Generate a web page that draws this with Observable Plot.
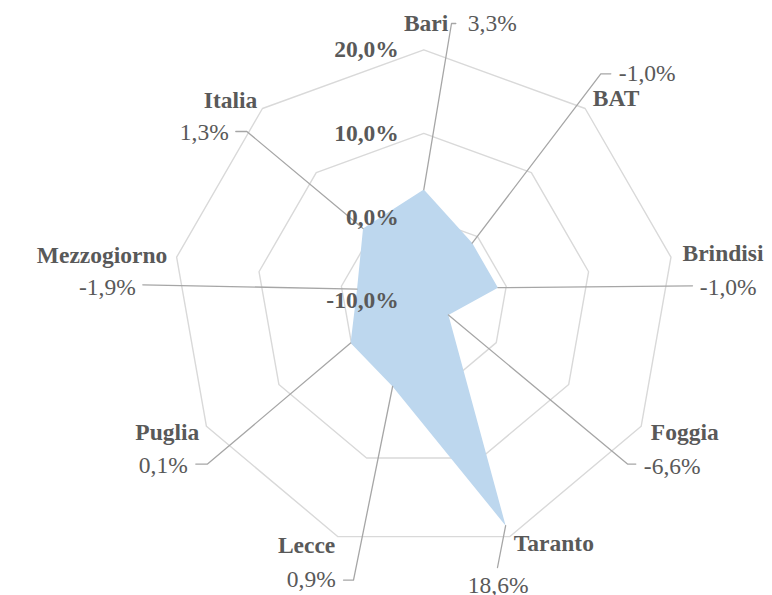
<!DOCTYPE html>
<html><head><meta charset="utf-8">
<script src="https://cdn.jsdelivr.net/npm/d3@7"></script>
<script src="https://cdn.jsdelivr.net/npm/@observablehq/plot@0.6"></script>
<style>
html,body{margin:0;padding:0;background:#fff;}
svg text{font-family:"Liberation Serif", serif !important;}
g[aria-label="names"] text{letter-spacing:2.2px}
</style></head><body><div id="chart"></div>
<script>
// ---- data ----
const categories = ["Bari","BAT","Brindisi","Foggia","Taranto","Lecce","Puglia","Mezzogiorno","Italia"];
const values = [3.3, -1.0, -1.0, -6.6, 18.6, 0.9, 0.1, -1.9, 1.3];
const ringTicks = [-10, 0, 10, 20];
const ringTickLabels = ["-10,0%", "0,0%", "10,0%", "20,0%"];
const valueLabels = ["3,3%", "-1,0%", "-1,0%", "-6,6%", "18,6%", "0,9%", "0,1%", "-1,9%", "1,3%"];

// ---- layout (label placement, px offsets from the chart centre) ----
const labelLayout = [
  {leader: [[27.7,-277.3],[32,-277.3]], name: [24.5,-277,"end"], value: [44,-277,"start"]},
  {leader: [[177,-227],[187,-227]], name: [169,-202,"start"], value: [195,-227,"start"]},
  {leader: [[268.7,-15]], name: [258.7,-47,"start"], value: [276,-13.3,"start"]},
  {leader: [[203.7,163.3],[212,163.3]], name: [227,131.7,"start"], value: [220,166,"start"]},
  {leader: [[73.7,266.7]], name: [90,243,"start"], value: [44,285,"start"]},
  {leader: [[-70.3,279.3],[-80.3,279.3]], name: [-88.5,245,"end"], value: [-88,279,"end"]},
  {leader: [[-216.3,163.3],[-228,163.3]], name: [-224.5,131.7,"end"], value: [-236,165,"end"]},
  {leader: [[-281,-16]], name: [-256.5,-45,"end"], value: [-288,-13.3,"end"]},
  {leader: [[-177,-169.3],[-188,-169.3]], name: [-166.5,-200,"end"], value: [-195,-168.3,"end"]}
];

const W = 772, H = 595, CX = 423.3, CY = 300.3, R = 251;
const r = d3.scaleLinear().domain([ringTicks[0], ringTicks[ringTicks.length-1]]).range([0, R]);
const n = categories.length;
const ang = i => i * 2 * Math.PI / n;
const pt = (i, v) => ({x: r(v) * Math.sin(ang(i)), y: -r(v) * Math.cos(ang(i))});

const rings = [];
ringTicks.slice(1).forEach(t => categories.forEach((c, i) => rings.push({ring: t, ...pt(i, t)})));
const area = categories.map((c, i) => ({cat: c, ...pt(i, values[i])}));
const leaders = [];
categories.forEach((c, i) => {
  leaders.push({cat: c, ...pt(i, values[i])});
  labelLayout[i].leader.forEach(([x, y]) => leaders.push({cat: c, x, y}));
});
const names = categories.map((c, i) => ({t: c, x: labelLayout[i].name[0], y: labelLayout[i].name[1], a: labelLayout[i].name[2]}));
const vals = valueLabels.map((t, i) => ({t, x: labelLayout[i].value[0], y: labelLayout[i].value[1], a: labelLayout[i].value[2]}));
const ticks = ringTicks.map((t, i) => ({t: ringTickLabels[i], y: -r(t)}));

const font = "Liberation Serif";
const txt = "#595959";
const fs = 23.5;

const chart = Plot.plot({
  width: W, height: H, margin: 0,
  style: {fontFamily: font, background: "#fff"},
  x: {domain: [-CX, W - CX], range: [0, W], axis: null},
  y: {domain: [-CY, H - CY], range: [0, H], axis: null},
  marks: [
    Plot.line(rings, {x: "x", y: "y", z: "ring", curve: "linear-closed", stroke: "#d9d9d9", strokeWidth: 1.4}),
    Plot.line(area, {x: "x", y: "y", curve: "linear-closed", fill: "#bdd7ee", stroke: "none"}),
    Plot.line(leaders, {x: "x", y: "y", z: "cat", stroke: "#a6a6a6", strokeWidth: 1.3}),
    Plot.text(ticks, {x: () => 0, y: "y", text: "t", dx: -25, textAnchor: "end", fontSize: fs, fontWeight: "bold", fontFamily: font, fill: txt, ariaLabel: "ticks"}),
    ...["start", "end"].map(a => Plot.text(names.filter(d => d.a === a), {x: "x", y: "y", text: "t", textAnchor: a, fontSize: fs, fontWeight: "bold", fontFamily: font, fill: txt, ariaLabel: "names"})),
    ...["start", "end"].map(a => Plot.text(vals.filter(d => d.a === a), {x: "x", y: "y", text: "t", textAnchor: a, fontSize: fs, fontFamily: font, fill: txt, ariaLabel: "values"}))
  ]
});
document.getElementById("chart").appendChild(chart);
</script></body></html>
